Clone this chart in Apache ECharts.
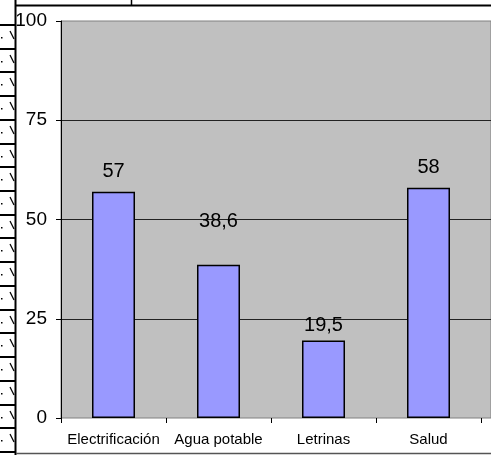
<!DOCTYPE html>
<html>
<head>
<meta charset="utf-8">
<script src="https://cdn.jsdelivr.net/npm/echarts@6/dist/echarts.min.js"></script>
<style>
html,body{margin:0;padding:0;background:#fff;}
#c{width:491px;height:455px;}
</style>
</head>
<body>
<div id="c"></div>
<script>
// ---- data ----
var categories = ['Electrificación', 'Agua potable', 'Letrinas', 'Salud'];
var values = [57, 38.6, 19.5, 58];
var valueLabels = ['57', '38,6', '19,5', '58'];
var yTicks = [0, 25, 50, 75, 100];
// label spacing above each bar (style)
var labelGaps = [10, 33, 5, 10];

var FONT = '"Liberation Sans", Arial, sans-serif';

// decorative left strip (table border fragments)
var deco = [];
deco.push({type:'line', shape:{x1:15.5, y1:0, x2:15.5, y2:455}, style:{stroke:'#000', lineWidth:2}, silent:true});
deco.push({type:'line', shape:{x1:16, y1:5.5, x2:491, y2:5.5}, style:{stroke:'#000', lineWidth:2}, silent:true});
deco.push({type:'line', shape:{x1:16, y1:453.5, x2:491, y2:453.5}, style:{stroke:'#555', lineWidth:1.5}, silent:true});
deco.push({type:'line', shape:{x1:131.5, y1:0, x2:131.5, y2:5}, style:{stroke:'#000', lineWidth:1.5}, silent:true});
for (var i = 0; i < 19; i++) {
  var yy = Math.round(25 + i * 23.72);
  deco.push({type:'line', shape:{x1:0, y1:yy, x2:15, y2:yy}, style:{stroke:'#000', lineWidth:2}, silent:true});
  deco.push({type:'line', shape:{x1:10, y1:yy + 6, x2:14, y2:yy + 14}, style:{stroke:'#000', lineWidth:1.2}, silent:true});
  deco.push({type:'rect', shape:{x:1, y:yy + 12, width:1.5, height:1.5}, style:{fill:'#000'}, silent:true});
}

var chart = echarts.init(document.getElementById('c'), null, {renderer:'canvas'});
chart.setOption({
  animation: false,
  backgroundColor: '#fff',
  grid: [
    {left: 61, right: -40, top: 21, bottom: 37, show: true, backgroundColor: '#C0C0C0', borderColor: '#808080', borderWidth: 1, z: 0},
    {left: 61, width: 420, top: 21, bottom: 37, show: false}
  ],
  xAxis: [
    {type: 'value', gridIndex: 0, min: 0, max: 1, show: false},
    {
      type: 'category', gridIndex: 1, data: categories,
      axisLine: {show: false},
      axisTick: {show: true, length: 5, lineStyle: {color: '#000'}},
      axisLabel: {color: '#000', fontFamily: FONT, fontSize: 15, margin: 14, interval: 0}
    }
  ],
  yAxis: [
    {
      type: 'value', gridIndex: 0, min: 0, max: 100, interval: 25,
      axisLine: {show: false}, axisTick: {show: false}, axisLabel: {show: false},
      splitLine: {show: true, showMinLine: false, showMaxLine: false, lineStyle: {color: '#222', width: 1}}
    },
    {
      type: 'value', gridIndex: 1, min: 0, max: 100, interval: 25,
      axisLine: {show: true, lineStyle: {color: '#000', width: 1}},
      axisTick: {show: true, length: 5, lineStyle: {color: '#000'}},
      axisLabel: {color: '#000', fontFamily: FONT, fontSize: 19, margin: 14},
      splitLine: {show: false}
    }
  ],
  series: [{
    type: 'bar', xAxisIndex: 1, yAxisIndex: 1,
    barWidth: 43,
    data: values.map(function (v, i) {
      return {
        value: v,
        label: {show: true, position: 'top', distance: labelGaps[i], formatter: valueLabels[i],
                color: '#000', fontFamily: FONT, fontSize: 20}
      };
    }),
    itemStyle: {color: '#9999FF', borderColor: '#000', borderWidth: 1.5},
    z: 3
  }],
  graphic: deco
});
</script>
</body>
</html>
